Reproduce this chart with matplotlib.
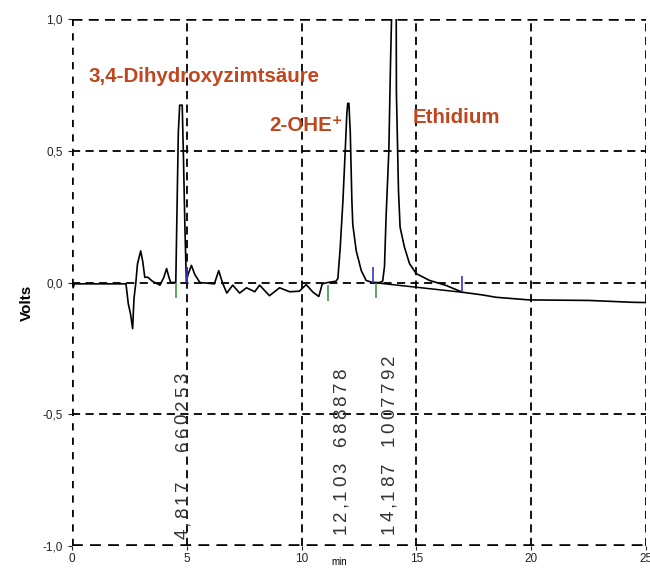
import matplotlib
matplotlib.use("Agg")
import matplotlib.pyplot as plt

# chromatogram trace (time in min, signal in volts)
time_min = [0.0, 0.05, 0.1, 2.35, 2.45, 2.55, 2.64, 2.70, 2.78, 2.85, 2.99,
            3.08, 3.17, 3.3, 3.5, 3.83, 4.0, 4.12, 4.22, 4.3, 4.52, 4.57,
            4.63, 4.69, 4.80, 4.85, 4.92, 4.98, 5.05, 5.2, 5.35, 5.57, 6.2,
            6.39, 6.55, 6.74, 7.0, 7.3, 7.6, 7.96, 8.17, 8.6, 9.04, 9.48,
            9.9, 10.2, 10.5, 10.75, 10.9, 11.13, 11.5, 11.58, 11.68, 11.8,
            11.9, 11.97, 12.01, 12.06, 12.12, 12.19, 12.23, 12.38, 12.6,
            12.81, 13.09, 13.4, 13.53, 13.61, 13.68, 13.8, 13.87, 13.93,
            14.12, 14.13, 14.22, 14.29, 14.48, 14.7, 14.99, 15.57, 16.29,
            17.01, 17.87, 18.47, 19.91, 22.52, 24.39, 25.0]
volts = [0.0, -0.02, -0.005, -0.005, -0.08, -0.12, -0.175, -0.06, 0.0, 0.07,
         0.12, 0.08, 0.02, 0.02, 0.005, -0.01, 0.02, 0.053, 0.02, 0.0, 0.0,
         0.26, 0.57, 0.673, 0.673, 0.49, 0.2, 0.0, 0.03, 0.065, 0.03, 0.0,
         -0.005, 0.045, 0.0, -0.04, -0.01, -0.04, -0.02, -0.035, -0.01,
         -0.05, -0.02, -0.035, -0.033, -0.008, -0.037, -0.053, -0.005, 0.0,
         0.005, 0.015, 0.13, 0.31, 0.5, 0.64, 0.68, 0.68, 0.57, 0.31, 0.22,
         0.12, 0.045, 0.008, 0.0, 0.0, 0.005, 0.06, 0.25, 0.5, 0.82, 1.05,
         1.05, 0.72, 0.35, 0.21, 0.134, 0.072, 0.034, 0.008, -0.011, -0.037,
         -0.047, -0.056, -0.066, -0.068, -0.075, -0.076]

# integration baseline under the ethidium peak
base_t = [13.12, 17.0]
base_v = [0.0, -0.037]

# peak start (green) / end (blue) markers
start_t = [4.52, 11.17, 13.25]
start_v = [0.0, -0.01, 0.0]
end_t = [4.99, 13.12, 17.0]
end_v = [0.0, 0.0, -0.037]

# retention time / area annotations (written bottom-up, letter-spaced)
rt_labels = ["4,817  660253", "12,103 688878", "14,187 1007792"]
rt_x = [4.87, 11.76, 13.85]
rt_bottom = [-0.978, -0.96, -0.96]

peak_names = ["3,4-Dihydroxyzimtsäure", "2-OHE\u207a", "Ethidium"]
name_x = [0.7, 8.6, 14.83]
name_y = [0.78, 0.597, 0.627]

x_ticks = [0, 5, 10, 15, 20, 25]
y_ticks = [-1.0, -0.5, 0.0, 0.5, 1.0]
y_tick_labels = ["-1,0", "-0,5", "0,0", "0,5", "1,0"]

LABEL_COLOR = "#C0461E"
DASH = (0, (4.5, 3))
CHAR_STEP = 0.051   # volts per character cell of the rotated labels

plt.rcParams["font.family"] = ["Liberation Sans", "DejaVu Sans"]

fig = plt.figure(figsize=(6.5, 5.68), dpi=100)
ax = fig.add_axes([0.1108, 0.0387, 0.8830, 0.9278])
ax.set_xlim(0, 25)
ax.set_ylim(-1.0, 1.0)

for s in ax.spines.values():
    s.set_visible(False)

# dashed grid, frame drawn as dashed lines too
for x in x_ticks[1:]:
    ax.axvline(x, color="black", lw=1.3, ls=DASH, zorder=1)
for y in [-0.5, 0.0, 0.5]:
    ax.axhline(y, color="black", lw=1.3, ls=DASH, zorder=1)
ax.axhline(1.0, color="black", lw=1.8, ls=(0, (4, 2.5)), zorder=1)
ax.axvline(0, color="black", lw=2.6, ls=(0, (2, 2)), zorder=1)
ax.axhline(-1.0, color="black", lw=2.6, ls=(0, (3, 2)), zorder=1)

ax.plot(time_min, volts, color="black", lw=1.2, zorder=3)
ax.plot(base_t, base_v, color="black", lw=1.1, zorder=3)

ax.vlines(start_t, [v - 0.06 for v in start_v], start_v,
          color="#3C9A3C", lw=1.2, zorder=4)
ax.vlines(end_t, end_v, [v + 0.06 for v in end_v],
          color="#3535C8", lw=1.2, zorder=4)

for s, x, y0 in zip(rt_labels, rt_x, rt_bottom):
    pos = y0
    for ch in s:
        cell = CHAR_STEP * (0.55 if ch == "," else 1.0)
        if ch != " ":
            ax.text(x + 0.17, pos + cell / 2, ch, rotation=90,
                    rotation_mode="anchor", ha="center", va="baseline",
                    fontsize=13.5, color="#333333", zorder=5)
        pos += cell

for s, x, y in zip(peak_names, name_x, name_y):
    ax.text(x, y, s, ha="left", va="center", fontsize=14.8,
            fontweight="bold", color=LABEL_COLOR, zorder=5)

ax.set_xticks(x_ticks)
ax.set_xticklabels([str(x) for x in x_ticks])
ax.set_yticks(y_ticks)
ax.set_yticklabels(y_tick_labels)
ax.tick_params(axis="both", labelsize=8.5, length=3, colors="#222222")
ax.tick_params(axis="x", pad=2)

ax.text(11.65, -1.06, "min", ha="center", va="center", fontsize=7,
        clip_on=False)
ax.set_ylabel("Volts", fontsize=11, fontweight="bold")
ax.yaxis.set_label_coords(-0.066, 0.462)

fig.savefig("out.png", dpi=100)
